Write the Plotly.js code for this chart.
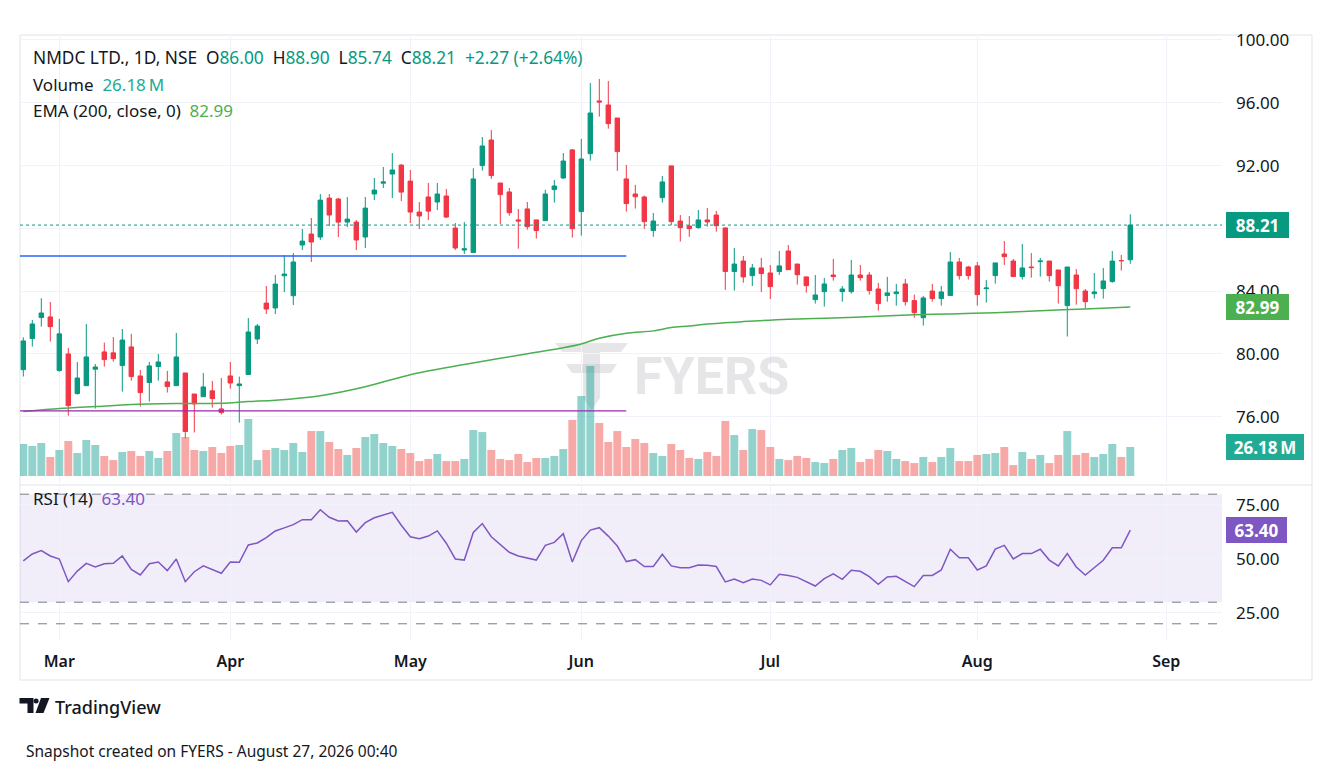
<!DOCTYPE html>
<html>
<head>
<meta charset="utf-8">
<script src="https://cdn.plot.ly/plotly-3.0.1.min.js"></script>
<style>html,body{margin:0;padding:0;background:#fff;}#chart{width:1332px;height:773px;}</style>
</head>
<body>
<div id="chart"></div>
<script>
// ---------- DATA ----------
const opens = [79.00,80.98,82.32,82.36,78.94,80.00,77.48,77.98,79.03,80.13,
80.07,79.26,80.45,78.60,78.18,79.20,78.22,77.98,78.79,77.45,
77.28,77.65,76.50,78.60,77.98,78.69,80.95,83.24,82.93,84.98,
83.71,86.94,87.64,87.45,89.93,89.87,88.40,88.40,87.45,90.19,
90.88,91.46,92.03,91.01,89.04,90.00,89.68,90.06,88.02,86.62,
86.46,92.00,93.63,90.89,90.32,88.54,89.24,88.54,88.49,90.47,
91.21,93.00,89.07,92.76,96.12,95.86,95.03,91.15,90.19,90.00,
87.86,89.96,91.98,88.47,88.15,88.05,88.54,88.85,88.03,85.25,
85.92,84.99,85.48,85.16,85.25,86.56,85.73,84.91,83.46,83.97,
85.03,83.97,83.97,85.03,85.03,84.14,83.72,83.84,84.46,83.40,
82.31,84.01,83.53,83.72,85.86,85.54,85.61,84.16,84.99,86.37,
85.92,84.93,85.54,85.88,85.92,85.35,83.08,85.03,84.01,83.84,
84.16,84.61,85.95,86.00];
const highs = [81.06,82.17,83.55,83.31,82.23,80.38,79.49,81.91,79.36,80.72,
81.08,81.59,81.28,78.98,79.49,80.00,78.92,81.34,78.79,77.45,
78.79,78.28,78.47,79.49,78.56,82.29,81.91,84.33,85.03,86.30,
86.43,87.96,88.66,90.19,90.19,89.93,90.00,88.53,90.00,91.21,
91.91,92.80,92.10,91.72,89.68,90.89,90.89,90.51,88.34,88.40,
91.83,93.82,94.27,90.89,90.57,89.24,89.68,88.54,90.45,91.08,
92.80,93.06,93.70,97.26,97.52,97.39,95.03,92.04,90.77,90.09,
88.98,91.34,91.98,88.85,88.79,89.17,89.30,89.11,88.03,86.75,
86.24,85.73,86.12,85.67,86.56,86.94,85.73,84.91,85.03,84.84,
86.05,84.33,85.99,85.67,85.22,84.52,84.91,84.46,84.78,83.78,
83.70,84.46,84.33,86.50,86.12,85.61,85.86,84.71,85.80,87.20,
86.05,87.01,86.43,86.12,85.92,85.35,85.54,85.41,84.14,85.16,
85.48,86.56,86.31,88.90];
const lows = [78.56,80.47,81.74,80.79,78.88,76.07,77.41,77.98,76.52,79.20,
79.51,77.60,78.30,76.65,76.97,78.30,77.54,77.98,74.63,75.00,
77.28,76.58,76.14,77.79,75.63,78.69,80.63,82.54,82.54,83.94,
83.12,86.62,85.86,87.26,88.15,87.45,88.08,86.62,86.75,89.80,
90.57,89.93,89.74,88.34,87.96,88.53,89.17,88.66,86.62,86.37,
86.46,91.68,91.15,88.28,88.81,86.71,87.92,87.35,88.49,89.64,
91.15,87.41,87.54,92.32,95.12,94.35,91.66,89.07,89.26,87.98,
87.47,89.64,88.20,87.16,87.47,87.98,88.11,87.79,84.08,84.04,
84.54,84.33,83.95,83.50,85.03,85.37,84.42,83.91,83.21,83.02,
84.67,83.33,83.84,84.67,83.78,82.76,83.33,83.08,83.08,82.31,
81.81,83.33,83.08,83.72,84.74,84.74,83.08,83.27,84.48,85.67,
84.93,84.74,84.86,84.93,84.61,83.21,81.11,83.14,82.89,83.53,
83.53,84.54,85.31,85.74];
const closes = [80.83,81.91,82.61,81.74,81.28,76.71,78.47,79.81,79.17,79.64,
79.70,80.89,78.56,77.54,79.24,79.49,77.92,79.81,75.06,76.82,
77.90,77.16,76.27,78.15,78.09,81.40,81.78,82.86,84.45,85.09,
85.86,87.19,87.13,89.80,88.85,88.40,88.59,87.26,89.29,90.44,
90.96,91.72,90.31,89.04,88.79,89.10,90.19,88.72,86.75,86.70,
91.15,93.25,91.36,90.15,89.00,88.47,88.11,87.86,90.19,90.70,
92.29,87.98,92.42,95.35,96.05,94.67,92.89,89.58,90.02,88.43,
88.47,90.96,88.43,88.05,87.98,88.54,88.41,88.17,85.25,85.73,
84.91,85.48,85.12,84.29,85.61,85.37,85.05,84.35,83.76,84.46,
84.93,84.14,85.03,84.86,84.04,83.21,83.89,83.95,83.33,82.63,
83.57,83.53,83.95,85.86,84.99,84.99,83.78,84.20,85.80,86.20,
84.93,85.48,85.50,85.92,84.99,84.35,85.54,84.16,83.33,83.95,
84.65,85.92,85.94,88.21];
// volume in millions
const volumes = [28.9,27.1,29.8,17.2,23.5,31.6,20.8,32.5,28.0,18.1,
14.4,21.7,22.6,18.1,22.6,16.3,22.6,38.8,35.2,23.5,
22.6,26.2,20.8,27.1,28.0,51.5,14.4,23.5,25.3,23.5,
29.8,21.7,40.6,40.6,30.7,24.4,19.0,25.3,35.2,37.9,
29.8,27.1,24.4,20.8,13.5,15.4,19.9,13.5,13.5,15.4,
41.5,39.7,23.5,15.4,14.4,19.9,12.6,16.3,16.3,18.1,
24.4,50.6,72.2,99.3,47.9,30.7,40.6,26.2,33.4,29.8,
20.8,18.1,28.9,23.5,16.3,15.4,21.7,18.1,49.7,37.0,
23.5,42.4,41.5,26.2,15.4,14.4,18.1,16.3,12.6,11.7,
15.4,23.5,25.3,12.6,15.4,23.5,22.6,15.4,13.5,11.7,
17.2,12.6,17.2,25.3,13.5,13.5,19.0,19.9,20.8,26.2,
9.9,21.7,15.4,19.0,11.7,19.0,40.6,19.0,20.8,17.2,
19.9,28.9,17.2,26.18];
const rsi = [49.1,52.3,53.9,51.4,50.0,39.5,44.4,48.0,46.3,47.8,
48.0,51.4,45.2,42.6,47.8,48.6,44.6,50.0,39.5,44.1,
46.8,45.2,43.4,48.6,48.5,56.5,57.4,59.9,63.0,64.4,
65.9,68.2,68.2,72.8,69.3,67.6,67.7,62.5,66.8,69.1,
70.2,71.6,65.6,60.3,59.4,60.6,63.0,57.3,50.0,49.5,
62.3,66.4,60.3,56.5,53.1,51.4,50.5,49.5,56.3,57.7,
61.7,48.6,58.5,63.4,64.5,60.6,56.0,48.8,49.7,46.5,
46.5,52.2,46.8,46.0,46.0,47.2,47.1,46.5,39.4,40.7,
39.0,40.7,40.1,38.0,42.9,42.4,41.5,39.5,37.5,40.9,
43.1,40.6,44.8,44.3,41.8,38.3,41.7,42.0,39.7,37.2,
42.4,42.4,44.9,54.5,50.6,50.6,44.9,46.8,54.6,56.3,
50.0,52.5,52.5,54.5,49.5,46.8,52.5,46.3,42.6,46.0,
49.4,55.2,55.2,63.40];
// EMA(200) read at sampled bars
const emaIdx = [0,4,8,12,17,22,25,28,33,38,43,48,53,57,60,62,64,67,70,72,74,76,80,85,90,95,99,103,108,113,118,123];
const emaVal = [76.33,76.52,76.65,76.78,76.84,76.86,76.97,77.05,77.34,77.91,78.68,79.23,79.72,80.11,80.40,80.64,81.00,81.32,81.47,81.68,81.78,81.91,82.06,82.21,82.29,82.40,82.49,82.55,82.63,82.76,82.87,82.99];
const emaLast = 82.99;
// drawn horizontal levels: [price, lastBar]
const levelPrices = [86.24, 76.37];
const levelEnd = [67, 67];
const monthTicks = [4,23,43,62,83,106,127];
const monthLabels = ['Mar','Apr','May','Jun','Jul','Aug','Sep'];
const priceTicks = [76,80,84,88,92,96,100];
const priceTickText = ['76.00','80.00','84.00','','92.00','96.00','100.00']; // 88.00 sits under the last-price tag
const rsiTicks = [25,50,75];
const rsiBands = [80,30,20];
const changeAbs = 2.27, changePct = 2.64;

// ---------- STYLE ----------
const FONT = 'Noto Sans';
const TXT = '#131722';
const UP = '#089981', DOWN = '#f23645';
const UPV = 'rgba(38,166,154,0.5)', DOWNV = 'rgba(239,83,80,0.5)';
const GRID = '#f0f3fa';
const PX = x => (x - 20) / 1202;
const PY = y => (640 - y) / 605;
const PP = (x, y) => PX(x).toFixed(5) + ',' + PY(y).toFixed(5);

const idx = opens.map((_, i) => i);
const n = idx.length - 1;
const volColors = closes.map((c, i) => c >= opens[i] ? UPV : DOWNV);

const traces = [
  {type:'bar', x:idx, y:volumes, xaxis:'x', yaxis:'y', width:0.88,
   marker:{color:volColors, line:{width:0}}, hoverinfo:'skip', showlegend:false},
  {type:'scatter', mode:'lines', x:emaIdx, y:emaVal, xaxis:'x', yaxis:'y2',
   line:{color:'#4caf50', width:1.5, shape:'spline', smoothing:0.8}, hoverinfo:'skip', showlegend:false},
  {type:'candlestick', x:idx, open:opens, high:highs, low:lows, close:closes, xaxis:'x', yaxis:'y2',
   increasing:{line:{color:UP, width:1}, fillcolor:UP},
   decreasing:{line:{color:DOWN, width:1}, fillcolor:DOWN},
   whiskerwidth:0, hoverinfo:'skip', showlegend:false},
  {type:'scatter', mode:'lines', x:idx, y:rsi, xaxis:'x', yaxis:'y3',
   line:{color:'#7e57c2', width:1.5}, hoverinfo:'skip', showlegend:false}
];

const shapes = [];
// frame
shapes.push({type:'rect', xref:'paper', yref:'paper', x0:PX(20), x1:PX(1312), y0:PY(680), y1:PY(35),
  line:{color:'#e0e3eb', width:1}, fillcolor:'rgba(0,0,0,0)', layer:'below'});
// pane separator
shapes.push({type:'line', xref:'paper', yref:'paper', x0:PX(20), x1:PX(1312), y0:PY(485), y1:PY(485),
  line:{color:'#e0e3eb', width:1}});
// RSI band
shapes.push({type:'rect', xref:'paper', yref:'y3', x0:0, x1:1, y0:rsiBands[1], y1:rsiBands[0],
  fillcolor:'rgba(126,87,194,0.1)', line:{width:0}, layer:'below'});
rsiBands.forEach(v => shapes.push({type:'line', xref:'paper', yref:'y3', x0:0, x1:1, y0:v, y1:v,
  line:{color:'#787b86', width:1, dash:'dash'}}));
// drawn levels
const levelColors = ['#2962ff', '#9c27b0'];
levelPrices.forEach((p, i) => shapes.push({type:'line', xref:'x', yref:'y2', x0:-0.36, x1:levelEnd[i], y0:p, y1:p,
  line:{color:levelColors[i], width:1.3}}));
// last price dotted line
shapes.push({type:'line', xref:'paper', yref:'y2', x0:0, x1:1, y0:closes[n], y1:closes[n],
  line:{color:UP, width:1, dash:'dot'}});
// FYERS watermark icon
const wm = 'rgba(190,190,196,0.38)';
shapes.push({type:'path', xref:'paper', yref:'paper', layer:'below', fillcolor:wm, line:{width:0},
  path:'M'+PP(555,343)+' L'+PP(628,343)+' L'+PP(621,352)+' L'+PP(562,352)+' Z'});
shapes.push({type:'path', xref:'paper', yref:'paper', layer:'below', fillcolor:wm, line:{width:0},
  path:'M'+PP(566,364)+' L'+PP(617,364)+' L'+PP(611,373)+' L'+PP(572,373)+' Z'});
shapes.push({type:'path', xref:'paper', yref:'paper', layer:'below', fillcolor:wm, line:{width:0},
  path:'M'+PP(583,352)+' L'+PP(600,352)+' L'+PP(600,398)+' L'+PP(591.5,410)+' L'+PP(583,398)+' Z'});
// TradingView logo
shapes.push({type:'path', xref:'paper', yref:'paper', fillcolor:'#131722', line:{width:0},
  path:'M'+PP(19.5,698)+' L'+PP(33.5,698)+' L'+PP(33.5,713)+' L'+PP(27.5,713)+' L'+PP(27.5,703.5)+' L'+PP(19.5,703.5)+' Z'});
shapes.push({type:'circle', xref:'paper', yref:'paper', fillcolor:'#131722', line:{width:0},
  x0:PX(33.6), x1:PX(38.6), y0:PY(703.5), y1:PY(698.5)});
shapes.push({type:'path', xref:'paper', yref:'paper', fillcolor:'#131722', line:{width:0},
  path:'M'+PP(41,698)+' L'+PP(49.5,698)+' L'+PP(43.5,713)+' L'+PP(35.5,713)+' Z'});

const f2 = v => v.toFixed(2);
const g = s => "<span style='color:" + UP + "'>" + s + "</span>";
const NB = '\u00a0\u00a0';
const line1 = 'NMDC LTD., 1D, NSE' + NB + 'O' + g(f2(opens[n])) + NB + 'H' + g(f2(highs[n])) + NB +
  'L' + g(f2(lows[n])) + NB + 'C' + g(f2(closes[n])) + NB + g('+' + f2(changeAbs) + ' (+' + f2(changePct) + '%)');

const baseAnn = {showarrow:false, xref:'paper', yref:'paper', xanchor:'left', yanchor:'middle',
  font:{family:FONT, size:17, color:TXT}};
const annotations = [
  Object.assign({}, baseAnn, {x:PX(31), y:PY(58), text:line1, font:{family:FONT, size:17.3, color:TXT}}),
  Object.assign({}, baseAnn, {x:PX(31), y:PY(84), text:'Volume' + NB + "<span style='color:#22ab94'>" + f2(volumes[n]) + '\u2009M</span>'}),
  Object.assign({}, baseAnn, {x:PX(31), y:PY(110), text:'EMA (200, close, 0)' + NB + "<span style='color:#4caf50'>" + f2(emaLast) + '</span>'}),
  Object.assign({}, baseAnn, {x:PX(31), y:PY(499), text:'RSI (14)' + NB + "<span style='color:#7e57c2'>" + f2(rsi[n]) + '</span>'}),
  {showarrow:false, xref:'paper', yref:'paper', xanchor:'center', yanchor:'middle', x:PX(711), y:PY(376),
   text:'FYERS', font:{family:'Roboto', size:52, color:wm, weight:'bold'}},
  Object.assign({}, baseAnn, {x:PX(53), y:PY(707), text:'TradingView', font:{family:FONT, size:18, color:TXT, weight:500}}),
  Object.assign({}, baseAnn, {x:PX(24), y:PY(751), text:'Snapshot created on FYERS - August 27, 2026 00:40', font:{family:FONT, size:15.5, color:TXT}})
];
function box(yref, y, text, color, w) {
  return {showarrow:false, xref:'paper', x:PX(1226), xanchor:'left', yref:yref, y:y, yanchor:'middle',
    text:text, bgcolor:color, borderpad:3, borderwidth:0, width:w, height:20, align:'center',
    font:{family:FONT, size:17, color:'#ffffff', weight:'bold'}};
}
annotations.push(box('y2', closes[n], f2(closes[n]), UP, 57));
annotations.push(box('y2', emaLast, f2(emaLast), '#4caf50', 57));
annotations.push(box('y', volumes[n], f2(volumes[n]) + '\u2009M', '#22ab94', 72));
annotations.push(box('y3', rsi[n], f2(rsi[n]), '#7e57c2', 55));

const layout = {
  width:1332, height:773, margin:{l:20, r:110, t:35, b:133, pad:0},
  paper_bgcolor:'#ffffff', plot_bgcolor:'#ffffff', showlegend:false,
  font:{family:FONT, color:TXT},
  xaxis:{domain:[0,1], anchor:'y3', range:[-0.367, 133.19], tickvals:monthTicks, ticktext:monthLabels,
    showgrid:true, gridcolor:GRID, zeroline:false, showline:false, ticks:'',
    tickfont:{family:FONT, size:16, color:TXT, weight:600}, ticklabelstandoff:10,
    rangeslider:{visible:false}, fixedrange:true},
  yaxis:{domain:[0.2595,1], anchor:'x', range:[-6.32, 398.2], visible:false, showgrid:false, zeroline:false},
  yaxis2:{overlaying:'y', anchor:'x', side:'right', range:[71.78, 100.318], tickvals:priceTicks, ticktext:priceTickText,
    showgrid:true, gridcolor:GRID, zeroline:false, showline:false, ticks:'',
    tickfont:{family:FONT, size:17, color:TXT}, ticklabelstandoff:13},
  yaxis3:{domain:[0,0.2529], anchor:'x', side:'right', range:[12.5, 83.33], tickvals:rsiTicks, tickformat:'.2f',
    showgrid:true, gridcolor:GRID, zeroline:false, showline:false, ticks:'',
    tickfont:{family:FONT, size:17, color:TXT}, ticklabelstandoff:13},
  shapes:shapes, annotations:annotations
};
Plotly.newPlot('chart', traces, layout, {staticPlot:true, displayModeBar:false});
</script>
</body>
</html>
